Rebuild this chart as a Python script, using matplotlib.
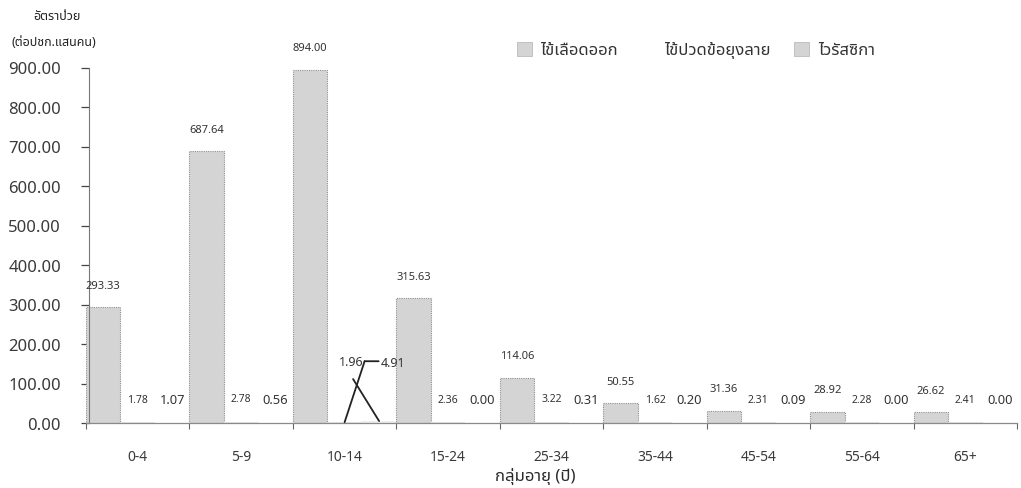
import matplotlib
matplotlib.use("Agg")
import matplotlib.pyplot as plt
import numpy as np
from matplotlib import font_manager
from matplotlib.ft2font import FT2Font
from matplotlib.transforms import ScaledTranslation
from matplotlib.patches import Patch

# ---- data -------------------------------------------------------------
age_groups = ["0-4", "5-9", "10-14", "15-24", "25-34", "35-44", "45-54", "55-64", "65+"]
dengue = [293.33, 687.64, 894.00, 315.63, 114.06, 50.55, 31.36, 28.92, 26.62]
chikungunya = [1.78, 2.78, 1.96, 2.36, 3.22, 1.62, 2.31, 2.28, 2.41]
zika = [1.07, 0.56, 4.91, 0.00, 0.31, 0.20, 0.09, 0.00, 0.00]
series_names = ["ไข้เลือดออก", "ไข้ปวดข้อยุงลาย", "ไวรัสซิกา"]
y_ticks = [0, 100, 200, 300, 400, 500, 600, 700, 800, 900]
y_title_lines = ["อัตราป่วย", "(ต่อปชก.แสนคน)"]
x_title = "กลุ่มอายุ (ปี)"


def find_thai_family():
    preferred = ["Noto Sans Thai", "Noto Sans Thai UI", "Noto Sans Thai Looped",
                 "Loma", "Garuda", "Tlwg Typo", "Sarabun", "Tahoma"]
    found = []
    for entry in font_manager.fontManager.ttflist:
        try:
            ft = FT2Font(entry.fname)
            if ft.get_char_index(ord("ก")) and ft.get_char_index(ord("้")):
                found.append(entry.name)
        except Exception:
            continue
    for name in preferred:
        if name in found:
            return name
    return found[0] if found else "DejaVu Sans"


thai_font = find_thai_family()
fonts = ["Noto Sans", thai_font, "DejaVu Sans"]
plt.rcParams["font.family"] = fonts

BAR_FILL = "#d4d4d4"
BAR_EDGE = "#8f8f8f"
TEXT = "#333333"

fig = plt.figure(figsize=(10.21, 4.89), dpi=100)
ax = fig.add_axes([86 / 1021, 1 - 424 / 489, (1017 - 86) / 1021, (424 - 68.5) / 489])

n = len(age_groups)
x = np.arange(n)
w = 1 / 3
pos_d = x - w
pos_c = x
pos_z = x + w

ax.bar(pos_d, dengue, width=w, color=BAR_FILL, edgecolor=BAR_EDGE,
       linewidth=0.8, linestyle=(0, (1, 1)), zorder=2)
ax.bar(pos_c, chikungunya, width=w, color="#e6e6e6", edgecolor="none", zorder=2)
ax.bar(pos_z, zika, width=w, color="#eeeeee", edgecolor="none", zorder=2)

ax.set_xlim(-0.5, n - 0.5)
ax.set_ylim(0, 900)

# data labels
for i in range(n):
    ax.annotate(f"{dengue[i]:.2f}", (pos_d[i], dengue[i]), xytext=(0, 22),
                textcoords="offset pixels", ha="center", va="center",
                fontsize=8, color=TEXT, annotation_clip=False)
    if age_groups[i] == "10-14":
        continue
    ax.annotate(f"{chikungunya[i]:.2f}", (pos_c[i], chikungunya[i]), xytext=(0, 23),
                textcoords="offset pixels", ha="center", va="center",
                fontsize=7.5, color=TEXT)
    ax.annotate(f"{zika[i]:.2f}", (pos_z[i], zika[i]), xytext=(0, 23),
                textcoords="offset pixels", ha="center", va="center",
                fontsize=9.3, color=TEXT)

# labels with leader lines for the 10-14 group
k = age_groups.index("10-14")


def shifted(dx, dy):
    return ax.transData + ScaledTranslation(dx / fig.dpi, dy / fig.dpi, fig.dpi_scale_trans)


line_kw = dict(arrowstyle="-", shrinkA=0, shrinkB=0, color="#222222", lw=1.3)
ax.annotate(f"{chikungunya[k]:.2f}", (pos_c[k], chikungunya[k]), xytext=(7, 61),
            textcoords="offset pixels", ha="center", va="center", fontsize=9, color=TEXT)
ax.annotate(f"{zika[k]:.2f}", (pos_z[k], zika[k]), xytext=(14, 59),
            textcoords="offset pixels", ha="center", va="center", fontsize=9, color=TEXT)
ax.annotate("", (pos_c[k], chikungunya[k]), xytext=(20, 61),
            textcoords="offset pixels", arrowprops=line_kw)
ax.annotate("", (pos_c[k], chikungunya[k]), xycoords=shifted(20, 61),
            xytext=(14, 0), textcoords="offset pixels", arrowprops=line_kw)
ax.annotate("", (pos_z[k], zika[k]), xytext=(-26, 42),
            textcoords="offset pixels", arrowprops=line_kw)

# axes styling
for side in ("top", "right"):
    ax.spines[side].set_visible(False)
ax.spines["left"].set_color("#777777")
ax.spines["left"].set_linewidth(0.8)
ax.spines["left"].set_linestyle((0, (2, 1)))
ax.spines["left"].set_position(("outward", -2))
ax.spines["bottom"].set_color("#8a8a8a")
ax.spines["bottom"].set_linewidth(0.9)
ax.spines["bottom"].set_linestyle((0, (2, 1)))

ax.set_yticks(y_ticks)
ax.set_yticklabels([f"{v:.2f}" for v in y_ticks])
ax.tick_params(axis="y", direction="out", length=6, width=0.9, color="#444444",
               pad=14, labelsize=12, labelcolor="#3a3a3a")

ax.set_xticks(x)
ax.set_xticklabels(age_groups)
ax.tick_params(axis="x", which="major", length=0, pad=19, labelsize=10, labelcolor="#3a3a3a")
ax.set_xticks(np.arange(n + 1) - 0.5, minor=True)
ax.tick_params(axis="x", which="minor", direction="out", length=4, width=0.8, color="#666666")

# titles
fig.text(57 / 1021, 1 - 17 / 489, y_title_lines[0], ha="center", va="center",
         fontsize=9, color="#222222", fontweight="bold")
fig.text(54 / 1021, 1 - 43 / 489, y_title_lines[1], ha="center", va="center",
         fontsize=9, color="#222222", fontweight="bold")
fig.text(535 / 1021, 1 - 477 / 489, x_title, ha="center", va="center",
         fontsize=12, color="#2a2a2a")

# legend
handles = [
    Patch(facecolor=BAR_FILL, edgecolor="#bbbbbb", linewidth=0.6),
    Patch(facecolor="white", edgecolor="white", linewidth=0),
    Patch(facecolor=BAR_FILL, edgecolor="#bbbbbb", linewidth=0.6),
]
fig.legend(handles, series_names, loc="center left",
           bbox_to_anchor=(517 / 1021, 1 - 51 / 489), ncol=3, frameon=False,
           fontsize=12, handlelength=0.9, handleheight=0.9, handletextpad=0.5,
           columnspacing=1.4, labelcolor="#333333", borderpad=0, borderaxespad=0)

fig.savefig("out.png", dpi=100, facecolor="white")
